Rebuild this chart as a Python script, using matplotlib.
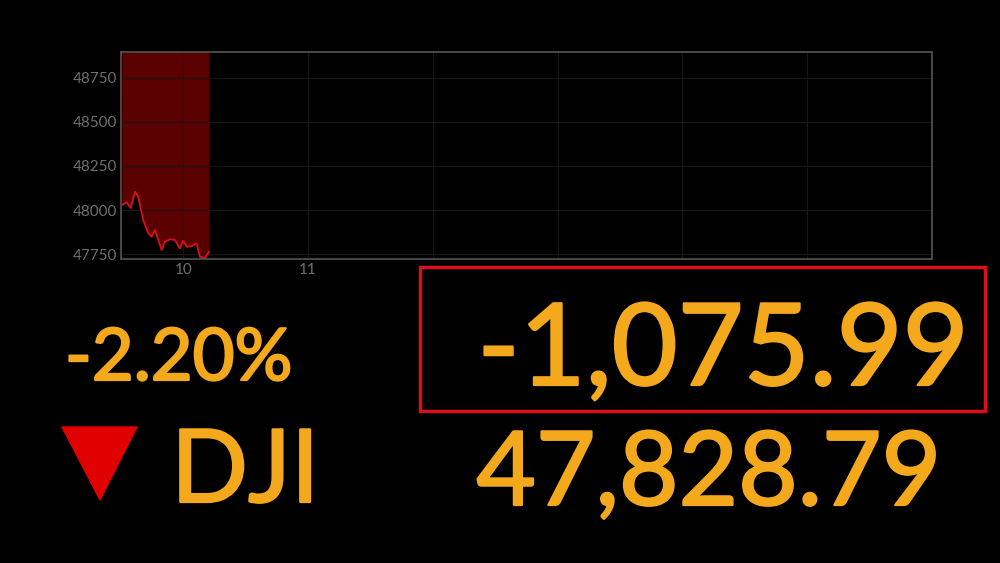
import numpy as np
import matplotlib.pyplot as plt
import matplotlib.patheffects as pe
from matplotlib.patches import Polygon, Rectangle

# intraday DJI, hours since midnight (only the first ~40 min traded so far)
times = [9.506, 9.546, 9.578, 9.612, 9.638, 9.678, 9.718, 9.746, 9.772, 9.826,
         9.852, 9.892, 9.932, 9.972, 9.998, 10.03, 10.066, 10.106, 10.132,
         10.172, 10.206]
prices = [48028, 48044, 48011, 48104, 48076, 47943, 47869, 47848, 47886, 47773,
          47820, 47834, 47830, 47782, 47824, 47791, 47795, 47811, 47735,
          47727, 47763]
yticks = [47750, 48000, 48250, 48500, 48750]
xticks = [10, 11, 12, 13, 14, 15]
xlabels = ['10', '11', '', '', '', '']

pct_change = '-2.20%'
pt_change = '-1,075.99'
ticker = 'DJI'
last = '47,828.79'

orange = '#f4a81c'
red = '#d9101a'

fig = plt.figure(figsize=(10, 5.63), dpi=100, facecolor='black')
ax = fig.add_axes([0.121, 0.540, 0.811, 0.368], facecolor='black')

ymin, ymax = 47722, 48898
ax.fill_between(times, prices, ymax, color='#5a0000', lw=0)
ax.plot(times, prices, color=red, lw=1.3)
ax.set_xlim(9.5, 16.0)
ax.set_ylim(ymin, ymax)
ax.set_yticks(yticks)
ax.set_xticks(xticks)
ax.set_xticklabels(xlabels)
ax.tick_params(length=0, colors='#6e6e6e', labelsize=11, pad=3)
for lab in ax.get_xticklabels() + ax.get_yticklabels():
    lab.set_family('Lato')
ax.grid(True, color='#161616', lw=0.8)
for s in ax.spines.values():
    s.set_color('#555555')
    s.set_linewidth(1.2)

# Lato regular, thickened a bit to get a medium weight
fnt = 'Lato'
thick = [pe.withStroke(linewidth=1.6, foreground=orange)]
fig.text(0.065, (563 - 380) / 563, pct_change, color=orange, fontsize=52,
         family=fnt, ha='left', va='baseline', path_effects=thick)
fig.text(0.969, (563 - 385) / 563, pt_change, color=orange, fontsize=82,
         family=fnt, ha='right', va='baseline', path_effects=thick)
fig.text(0.171, (563 - 502) / 563, ticker, color=orange, fontsize=73,
         family=fnt, ha='left', va='baseline', path_effects=thick)
fig.text(0.941, (563 - 505) / 563, last, color=orange, fontsize=74,
         family=fnt, ha='right', va='baseline', path_effects=thick)

# box around the point change
fig.patches.append(Rectangle((0.420, (563 - 411) / 563), 0.565, 144 / 563,
                             transform=fig.transFigure, fill=False,
                             edgecolor=red, lw=2.5))
# down arrow
fig.patches.append(Polygon([[0.062, (563 - 427) / 563], [0.137, (563 - 427) / 563],
                            [0.100, (563 - 500) / 563]], closed=True,
                           transform=fig.transFigure, color='#e00000'))

fig.savefig('out.png', dpi=100, facecolor='black')
